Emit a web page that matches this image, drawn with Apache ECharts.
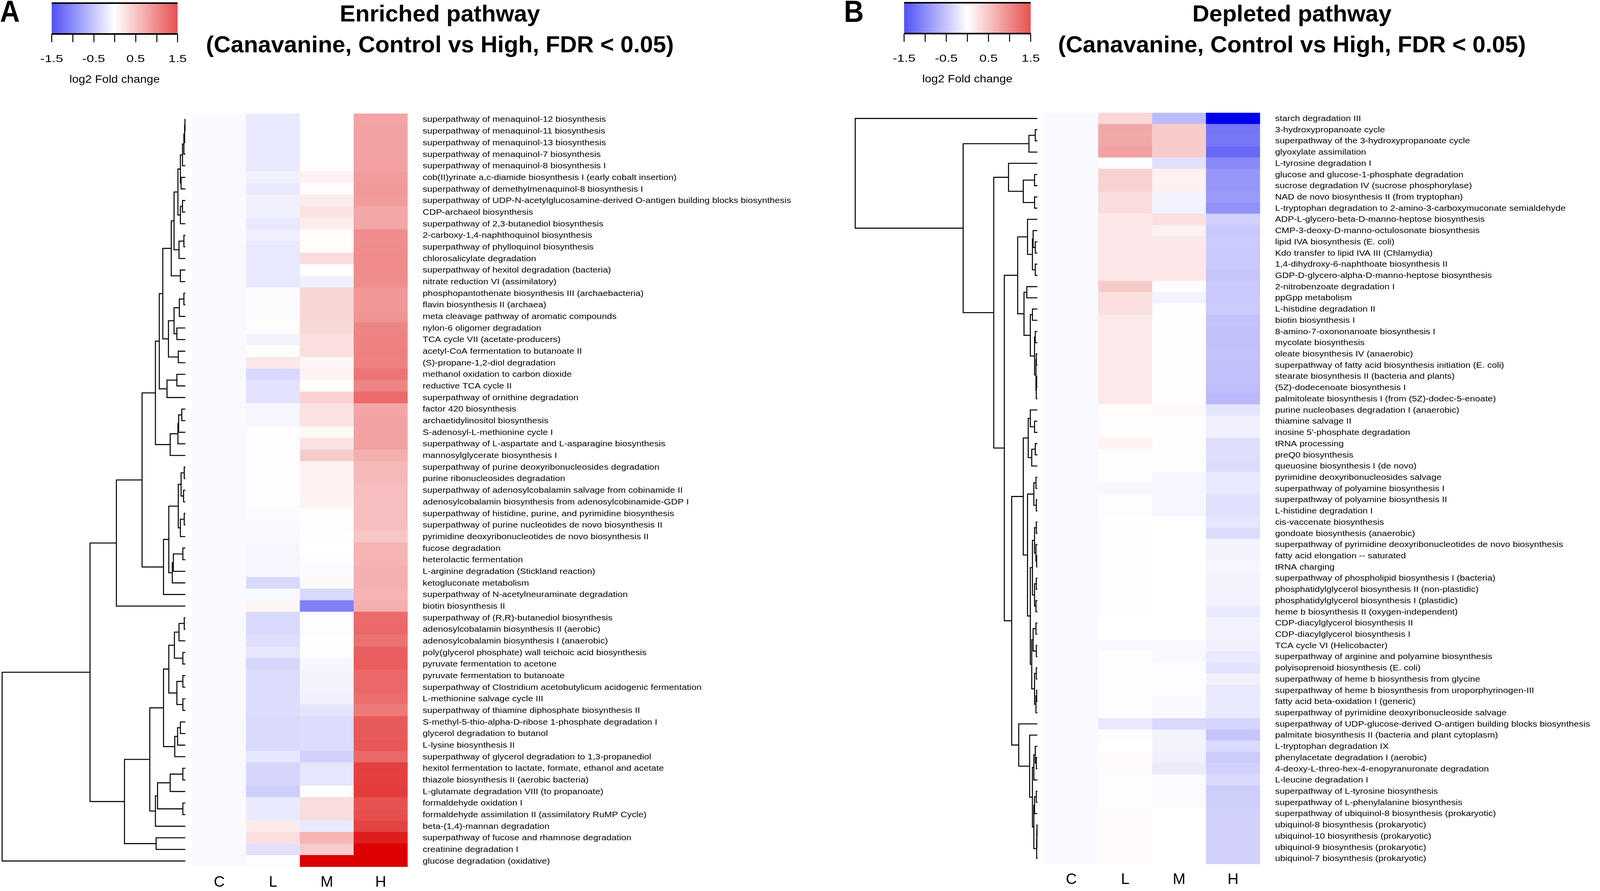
<!DOCTYPE html>
<html>
<head>
<meta charset="utf-8">
<script src="https://cdn.jsdelivr.net/npm/echarts@6/dist/echarts.min.js"></script>
<style>
html, body { margin: 0; padding: 0; background: #fff; overflow: hidden; }
#main { width: 100vw; height: 100vh; }
</style>
</head>
<body>
<div id="main"></div>
<script>
// column groups
var groups = ['C', 'L', 'M', 'H'];

// panel A: enriched pathways (row order as drawn, top to bottom)
var rowsA = [
  'superpathway of menaquinol-12 biosynthesis',
  'superpathway of menaquinol-11 biosynthesis',
  'superpathway of menaquinol-13 biosynthesis',
  'superpathway of menaquinol-7 biosynthesis',
  'superpathway of menaquinol-8 biosynthesis I',
  'cob(II)yrinate a,c-diamide biosynthesis I (early cobalt insertion)',
  'superpathway of demethylmenaquinol-8 biosynthesis I',
  'superpathway of UDP-N-acetylglucosamine-derived O-antigen building blocks biosynthesis',
  'CDP-archaeol biosynthesis',
  'superpathway of 2,3-butanediol biosynthesis',
  '2-carboxy-1,4-naphthoquinol biosynthesis',
  'superpathway of phylloquinol biosynthesis',
  'chlorosalicylate degradation',
  'superpathway of hexitol degradation (bacteria)',
  'nitrate reduction VI (assimilatory)',
  'phosphopantothenate biosynthesis III (archaebacteria)',
  'flavin biosynthesis II (archaea)',
  'meta cleavage pathway of aromatic compounds',
  'nylon-6 oligomer degradation',
  'TCA cycle VII (acetate-producers)',
  'acetyl-CoA fermentation to butanoate II',
  '(S)-propane-1,2-diol degradation',
  'methanol oxidation to carbon dioxide',
  'reductive TCA cycle II',
  'superpathway of ornithine degradation',
  'factor 420 biosynthesis',
  'archaetidylinositol biosynthesis',
  'S-adenosyl-L-methionine cycle I',
  'superpathway of L-aspartate and L-asparagine biosynthesis',
  'mannosylglycerate biosynthesis I',
  'superpathway of purine deoxyribonucleosides degradation',
  'purine ribonucleosides degradation',
  'superpathway of adenosylcobalamin salvage from cobinamide II',
  'adenosylcobalamin biosynthesis from adenosylcobinamide-GDP I',
  'superpathway of histidine, purine, and pyrimidine biosynthesis',
  'superpathway of purine nucleotides de novo biosynthesis II',
  'pyrimidine deoxyribonucleotides de novo biosynthesis II',
  'fucose degradation',
  'heterolactic fermentation',
  'L-arginine degradation (Stickland reaction)',
  'ketogluconate metabolism',
  'superpathway of N-acetylneuraminate degradation',
  'biotin biosynthesis II',
  'superpathway of (R,R)-butanediol biosynthesis',
  'adenosylcobalamin biosynthesis II (aerobic)',
  'adenosylcobalamin biosynthesis I (anaerobic)',
  'poly(glycerol phosphate) wall teichoic acid biosynthesis',
  'pyruvate fermentation to acetone',
  'pyruvate fermentation to butanoate',
  'superpathway of Clostridium acetobutylicum acidogenic fermentation',
  'L-methionine salvage cycle III',
  'superpathway of thiamine diphosphate biosynthesis II',
  'S-methyl-5-thio-alpha-D-ribose 1-phosphate degradation I',
  'glycerol degradation to butanol',
  'L-lysine biosynthesis II',
  'superpathway of glycerol degradation to 1,3-propanediol',
  'hexitol fermentation to lactate, formate, ethanol and acetate',
  'thiazole biosynthesis II (aerobic bacteria)',
  'L-glutamate degradation VIII (to propanoate)',
  'formaldehyde oxidation I',
  'formaldehyde assimilation II (assimilatory RuMP Cycle)',
  'beta-(1,4)-mannan degradation',
  'superpathway of fucose and rhamnose degradation',
  'creatinine degradation I',
  'glucose degradation (oxidative)'
];
var cA = [-0.05,-0.05,-0.05,-0.05,-0.05,-0.05,-0.05,-0.05,-0.05,-0.05,-0.05,-0.05,-0.05,-0.05,-0.05,-0.05,-0.05,-0.05,-0.05,-0.05,-0.05,-0.05,-0.05,-0.05,-0.05,-0.05,-0.05,-0.05,-0.05,-0.05,-0.05,-0.05,-0.05,-0.05,-0.05,-0.05,-0.05,-0.05,-0.05,-0.05,-0.05,-0.05,-0.05,-0.05,-0.05,-0.05,-0.05,-0.05,-0.05,-0.05,-0.05,-0.05,-0.05,-0.05,-0.05,-0.05,-0.05,-0.05,-0.05,-0.05,-0.05,-0.05,-0.05,-0.05,-0.05];
var lA = [-0.2,-0.2,-0.2,-0.2,-0.2,-0.12,-0.2,-0.12,-0.12,-0.2,-0.13,-0.2,-0.2,-0.2,-0.2,-0.03,-0.03,-0.03,0.03,-0.1,0.03,0.2,-0.33,-0.25,-0.25,-0.08,-0.08,-0.02,-0.02,-0.02,-0.02,-0.02,-0.02,-0.02,-0.03,-0.05,-0.05,-0.08,-0.08,-0.08,-0.33,-0.06,0.08,-0.33,-0.33,-0.28,-0.22,-0.35,-0.3,-0.3,-0.3,-0.3,-0.33,-0.33,-0.33,-0.22,-0.35,-0.35,-0.42,-0.18,-0.18,0.17,0.28,-0.26,-0.02];
var mA = [0,0,0,0,0.02,0.12,0.02,0.17,0.25,0.15,0.03,0.03,0.3,0,-0.12,0.35,0.35,0.35,0.33,0.27,0.27,0.08,0.1,0.02,0.4,0.25,0.25,0.05,0.25,0.45,0.12,0.12,0.12,0.1,0.03,0.03,0.02,0,-0.03,-0.04,0.05,-0.33,-1.1,-0.02,-0.02,-0.01,-0.02,-0.08,-0.1,-0.1,-0.12,-0.23,-0.3,-0.3,-0.3,-0.4,-0.22,-0.22,0.02,0.3,0.3,-0.18,0.64,0.45,2.2];
var hA = [0.78,0.8,0.8,0.8,0.82,0.85,0.88,0.85,0.76,0.76,0.98,0.98,1.0,1.0,0.98,0.9,0.9,0.92,1.05,1.08,1.1,1.08,1.2,1.05,1.28,0.78,0.8,0.8,0.82,0.7,0.6,0.6,0.56,0.56,0.56,0.55,0.48,0.66,0.66,0.68,0.68,0.66,0.7,1.28,1.3,1.22,1.38,1.4,1.3,1.3,1.25,1.15,1.42,1.42,1.45,1.3,1.65,1.65,1.68,1.5,1.52,1.62,1.95,2.2,2.2];

// panel B: depleted pathways
var rowsB = [
  'starch degradation III',
  '3-hydroxypropanoate cycle',
  'superpathway of the 3-hydroxypropanoate cycle',
  'glyoxylate assimilation',
  'L-tyrosine degradation I',
  'glucose and glucose-1-phosphate degradation',
  'sucrose degradation IV (sucrose phosphorylase)',
  'NAD de novo biosynthesis II (from tryptophan)',
  'L-tryptophan degradation to 2-amino-3-carboxymuconate semialdehyde',
  'ADP-L-glycero-beta-D-manno-heptose biosynthesis',
  'CMP-3-deoxy-D-manno-octulosonate biosynthesis',
  'lipid IVA biosynthesis (E. coli)',
  'Kdo transfer to lipid IVA III (Chlamydia)',
  '1,4-dihydroxy-6-naphthoate biosynthesis II',
  'GDP-D-glycero-alpha-D-manno-heptose biosynthesis',
  '2-nitrobenzoate degradation I',
  'ppGpp metabolism',
  'L-histidine degradation II',
  'biotin biosynthesis I',
  '8-amino-7-oxononanoate biosynthesis I',
  'mycolate biosynthesis',
  'oleate biosynthesis IV (anaerobic)',
  'superpathway of fatty acid biosynthesis initiation (E. coli)',
  'stearate biosynthesis II (bacteria and plants)',
  '(5Z)-dodecenoate biosynthesis I',
  'palmitoleate biosynthesis I (from (5Z)-dodec-5-enoate)',
  'purine nucleobases degradation I (anaerobic)',
  'thiamine salvage II',
  "inosine 5'-phosphate degradation",
  'tRNA processing',
  'preQ0 biosynthesis',
  'queuosine biosynthesis I (de novo)',
  'pyrimidine deoxyribonucleosides salvage',
  'superpathway of polyamine biosynthesis I',
  'superpathway of polyamine biosynthesis II',
  'L-histidine degradation I',
  'cis-vaccenate biosynthesis',
  'gondoate biosynthesis (anaerobic)',
  'superpathway of pyrimidine deoxyribonucleotides de novo biosynthesis',
  'fatty acid elongation -- saturated',
  'tRNA charging',
  'superpathway of phospholipid biosynthesis I (bacteria)',
  'phosphatidylglycerol biosynthesis II (non-plastidic)',
  'phosphatidylglycerol biosynthesis I (plastidic)',
  'heme b biosynthesis II (oxygen-independent)',
  'CDP-diacylglycerol biosynthesis II',
  'CDP-diacylglycerol biosynthesis I',
  'TCA cycle VI (Helicobacter)',
  'superpathway of arginine and polyamine biosynthesis',
  'polyisoprenoid biosynthesis (E. coli)',
  'superpathway of heme b biosynthesis from glycine',
  'superpathway of heme b biosynthesis from uroporphyrinogen-III',
  'fatty acid beta-oxidation I (generic)',
  'superpathway of pyrimidine deoxyribonucleoside salvage',
  'superpathway of UDP-glucose-derived O-antigen building blocks biosynthesis',
  'palmitate biosynthesis II (bacteria and plant cytoplasm)',
  'L-tryptophan degradation IX',
  'phenylacetate degradation I (aerobic)',
  '4-deoxy-L-threo-hex-4-enopyranuronate degradation',
  'L-leucine degradation I',
  'superpathway of L-tyrosine biosynthesis',
  'superpathway of L-phenylalanine biosynthesis',
  'superpathway of ubiquinol-8 biosynthesis (prokaryotic)',
  'ubiquinol-8 biosynthesis (prokaryotic)',
  'ubiquinol-10 biosynthesis (prokaryotic)',
  'ubiquinol-9 biosynthesis (prokaryotic)',
  'ubiquinol-7 biosynthesis (prokaryotic)'
];
var cB = [-0.05,-0.05,-0.05,-0.05,-0.05,-0.05,-0.05,-0.05,-0.05,-0.05,-0.05,-0.05,-0.05,-0.05,-0.05,-0.05,-0.05,-0.05,-0.05,-0.05,-0.05,-0.05,-0.05,-0.05,-0.05,-0.05,-0.05,-0.05,-0.05,-0.05,-0.05,-0.05,-0.05,-0.05,-0.05,-0.05,-0.05,-0.05,-0.05,-0.05,-0.05,-0.05,-0.05,-0.05,-0.05,-0.05,-0.05,-0.05,-0.05,-0.05,-0.05,-0.05,-0.05,-0.05,-0.05,-0.05,-0.05,-0.05,-0.05,-0.05,-0.05,-0.05,-0.05,-0.05,-0.05,-0.05,-0.05];
var lB = [0.34,0.75,0.75,0.8,-0.02,0.4,0.4,0.3,0.3,0.2,0.2,0.2,0.2,0.2,0.2,0.45,0.27,0.27,0.18,0.18,0.18,0.18,0.18,0.18,0.18,0.18,0.03,0.02,0.02,0.1,0.03,0.03,-0.02,-0.07,-0.02,-0.02,0.02,0.02,0.02,0.02,0.02,0.02,0.02,0.02,0.02,0,0,-0.06,-0.02,-0.02,-0.02,-0.02,-0.02,-0.02,-0.2,-0.02,0,0.04,0.04,-0.02,-0.02,-0.02,0.04,0.04,0.04,0.04,0.04];
var mB = [-0.58,0.45,0.45,0.45,-0.26,0.12,0.12,-0.1,-0.1,0.28,0.12,0.2,0.2,0.2,0.2,-0.02,-0.1,0.02,0.02,0.02,0.02,0.02,0.02,0.02,0.02,0.02,0.05,0.02,0.02,0.03,0.02,0.02,-0.08,-0.08,-0.08,-0.08,0,0,0,0,0,0,0,0,0,0,0,-0.06,-0.06,-0.02,-0.02,-0.02,-0.05,-0.05,-0.33,-0.1,-0.1,-0.12,-0.17,-0.04,-0.04,-0.04,0,0,0,0,0];
var hB = [-2.2,-1.19,-1.17,-1.29,-1.02,-0.9,-0.9,-0.86,-0.95,-0.4,-0.47,-0.45,-0.47,-0.47,-0.5,-0.47,-0.47,-0.45,-0.52,-0.54,-0.54,-0.52,-0.54,-0.54,-0.56,-0.6,-0.23,-0.14,-0.14,-0.28,-0.28,-0.3,-0.2,-0.2,-0.26,-0.26,-0.22,-0.3,-0.1,-0.1,-0.08,-0.1,-0.1,-0.1,-0.18,-0.1,-0.1,-0.12,-0.18,-0.24,-0.12,-0.2,-0.18,-0.18,-0.36,-0.5,-0.33,-0.45,-0.4,-0.33,-0.42,-0.42,-0.4,-0.4,-0.4,-0.4,-0.4];

// row dendrograms: [left, right, mergeHeight], leaves are row indices
var subA1 = [[[[[[[[0, 1, 1], 2, 2], 3, 4], 4, 8], [5, 6, 12], 14], [[7, 8, 8], 9, 14], 21], [[10, 11, 4], 12, 18], 32], [13, 14, 14], 40];
var subA2 = [[[[15, 16, 4], 17, 17], [18, 19, 24], 32], [20, 21, 20], 48];
var subA3 = [[22, 23, 24], 24, 52];
var subA4 = [[[[25, 26, 10], 27, 19], 28, 21], 29, 43];
var subA5 = [[[[[30, 31, 3], [32, 33, 5], 12], [[34, 35, 3], 36, 14], 20], [[[37, 38, 7], 39, 34], 40, 37], 47], 41, 62];
var subA6 = [[[[[43, 44, 3], 45, 18], [46, 47, 7], 31], [[48, 49, 7], [50, 51, 7], 24], 47], [[[52, 53, 14], 54, 22], 55, 30], 62];
var subA7 = [[[[56, 57, 7], 58, 43], [59, 60, 7], 79], 61, 85];
var treeA = [[[[[[[subA1, subA2, 64], subA3, 74], subA4, 85], subA5, 123], 42, 196], [[subA6, subA7, 101], [62, 63, 83], 173], 271], 64, 521];

var subB1 = [[1, 2, 6], 3, 24];
var subB2 = [4, [[5, 6, 8], [7, 8, 8], 40], 82];
var subB3 = [[9, [[10, [11, 12, 6], 12], [13, 14, 6], 14], 28], [[15, 16, 30], [[17, 18, 14], [[19, 20, 6], [[21, 22, 3], [[23, 24, 2], 25, 3], 4], 8], 20], 38], 56];
var subB4 = [[26, [27, 28, 8], 20], [[29, 30, 6], 31, 16], 26];
var subB5 = [[[32, 33, 4], [34, 35, 3], 10], [[[[36, 37, 3], [38, [39, 40, 2], 4], 8], [[41, 42, 3], [43, 44, 4], 8], 14], [[[45, 46, 4], [47, 48, 3], 12], [[49, 50, 3], [[51, 52, 2], 53, 4], 8], 16], 20], 28];
var subB6 = [54, [55, [[[56, [57, 58, 3], 6], 59, 10], [[[60, 61, 3], 62, 8], [[[63, 64, 1], 65, 1.5], 66, 2], 10], 14], 22], 53];
var treeB = [0, [subB1, [subB2, [subB3, [[subB4, subB5, 40], subB6, 73], 94], 124], 211], 518];

// colour key
var legendLabels = [-1.5, -0.5, 0.5, 1.5];

var FONT = '"Liberation Sans", Arial, Helvetica, sans-serif';
var VMAX = 2.2;
var LOW = [0, 0, 240], MID = [255, 255, 255], HIGH = [220, 0, 0];

// layout is laid out on a 4550 x 2282 design and scaled to the viewport
var dom = document.getElementById('main');
var SX = dom.clientWidth / 4550, SY = dom.clientHeight / 2282;
function X(v) { return v * SX; }
function Y(v) { return v * SY; }
function fs(v) { return v * SY; }
function stretch(k) { return k * SX / SY; }

function colorAt(v) {
  var t, a, b;
  if (v < 0) { t = (v + VMAX) / VMAX; a = LOW; b = MID; }
  else { t = v / VMAX; a = MID; b = HIGH; }
  t = Math.max(0, Math.min(1, t));
  return 'rgb(' + [0, 1, 2].map(function (k) { return Math.round(a[k] + (b[k] - a[k]) * t); }).join(',') + ')';
}

function heatData(cols) {
  var out = [];
  for (var r = 0; r < cols[0].length; r++) {
    for (var c = 0; c < cols.length; c++) out.push([c, r, cols[c][r]]);
  }
  return out;
}

function dendroSegments(tree) {
  var segs = [];
  function walk(node) {
    if (typeof node === 'number') return { h: 0, y: node + 0.5 };
    var a = walk(node[0]), b = walk(node[1]), h = node[2];
    segs.push({ coords: [[a.h, a.y], [h, a.y], [h, b.y], [b.h, b.y]] });
    return { h: h, y: (a.y + b.y) / 2 };
  }
  walk(tree);
  return segs;
}

function rowLabelRenderer(rows) {
  return function (params, api) {
    var r = api.value(1);
    var p = api.coord([3, r]);
    var s = api.size([1, 1]);
    return {
      type: 'text', x: p[0] + s[0] / 2 + X(43), y: p[1] + Y(1), scaleX: stretch(1.27),
      style: { text: rows[r], fontSize: fs(20.5), fontFamily: FONT, fill: '#000', align: 'left', verticalAlign: 'middle' }
    };
  };
}

function legendBar(params, api) {
  var p0 = api.coord([-1.5, 1]), p1 = api.coord([1.5, 0]);
  return {
    type: 'group', children: [
      { type: 'rect', shape: { x: p0[0], y: p0[1], width: p1[0] - p0[0], height: p1[1] - p0[1] },
        style: { fill: new echarts.graphic.LinearGradient(0, 0, 1, 0, [
          { offset: 0, color: colorAt(-1.5) }, { offset: 0.5, color: '#ffffff' }, { offset: 1, color: colorAt(1.5) }]) } },
      { type: 'line', shape: { x1: p0[0], y1: p0[1], x2: p1[0], y2: p0[1] }, style: { stroke: '#000', lineWidth: 4 } },
      { type: 'line', shape: { x1: p0[0], y1: p1[1], x2: p1[0], y2: p1[1] }, style: { stroke: '#000', lineWidth: 4 } },
      { type: 'text', x: (p0[0] + p1[0]) / 2, y: p1[1] + Y(118), scaleX: stretch(1.24),
        style: { text: 'log2 Fold change', fontSize: fs(27), fontFamily: FONT, fill: '#000', align: 'center', verticalAlign: 'middle' } }
    ]
  };
}

function legendText(params, api) {
  var v = api.value(0);
  var p = api.coord([v, 0]);
  return {
    type: 'text', x: p[0], y: p[1] + Y(65), scaleX: stretch(1.45),
    style: { text: String(v), fontSize: fs(26), fontFamily: FONT, fill: '#000', align: 'center', verticalAlign: 'middle' }
  };
}

function heatXAxis(idx) {
  return {
    type: 'category', gridIndex: idx, data: groups, position: 'bottom',
    axisLine: { show: false }, axisTick: { show: false }, splitLine: { show: false },
    axisLabel: { fontSize: fs(39), color: '#000', fontFamily: FONT, margin: Y(21) }
  };
}
function heatYAxis(idx, rows) {
  return { type: 'category', gridIndex: idx, data: rows, inverse: true, show: false };
}
function dendroX(idx, max) {
  return { type: 'value', gridIndex: idx, min: 0, max: max, inverse: true, show: false };
}
function dendroY(idx, n) {
  return { type: 'value', gridIndex: idx, min: 0, max: n, inverse: true, show: false };
}
function legendX(idx) {
  return {
    type: 'value', gridIndex: idx, min: -1.5, max: 1.5, interval: 0.5, position: 'bottom',
    axisLine: { show: false }, splitLine: { show: false }, axisLabel: { show: false },
    axisTick: { show: true, length: Y(21), lineStyle: { color: '#000', width: 2.5 } }
  };
}
function legendY(idx) {
  return { type: 'value', gridIndex: idx, min: 0, max: 1, show: false };
}

function box(l, t, w, h) {
  return { left: X(l), top: Y(t), width: X(w), height: Y(h), containLabel: false, outerBoundsMode: 'none' };
}
var grids = [
  box(6, 291, 521, 1929),
  box(547, 291, 612, 1929),
  box(2432, 289, 518, 1924),
  box(2970, 289, 613, 1924),
  box(147, 8, 358, 79),
  box(2571, 7, 360, 79)
];

function label(text, x, y, size, k, align) {
  return { type: 'text', x: X(x), y: Y(y), scaleX: stretch(k),
    style: { text: text, fontSize: fs(size), fontWeight: 'bold', fontFamily: FONT, fill: '#000', align: align, verticalAlign: 'middle' } };
}

var chart = echarts.init(dom, null, { renderer: 'canvas' });

chart.setOption({
  backgroundColor: '#ffffff',
  animation: false,
  grid: grids,
  xAxis: [dendroX(0, treeA[2]), heatXAxis(1), dendroX(2, treeB[2]), heatXAxis(3), legendX(4), legendX(5)],
  yAxis: [dendroY(0, rowsA.length), heatYAxis(1, rowsA), dendroY(2, rowsB.length), heatYAxis(3, rowsB), legendY(4), legendY(5)],
  visualMap: {
    type: 'continuous', show: false, min: -VMAX, max: VMAX, dimension: 2, seriesIndex: [1, 4],
    inRange: { color: ['rgb(0,0,240)', '#ffffff', 'rgb(220,0,0)'] }
  },
  graphic: [
    label('A', 0, 34, 78, 1, 'left'),
    label('B', 2400, 34, 78, 1, 'left'),
    label('Enriched pathway', 1251, 38, 60, 1.11, 'center'),
    label('(Canavanine, Control vs High, FDR < 0.05)', 1251, 117, 60, 1.11, 'center'),
    label('Depleted pathway', 3674, 38, 60, 1.11, 'center'),
    label('(Canavanine, Control vs High, FDR < 0.05)', 3674, 117, 60, 1.11, 'center')
  ],
  series: [
    { type: 'lines', coordinateSystem: 'cartesian2d', xAxisIndex: 0, yAxisIndex: 0, polyline: true, silent: true,
      lineStyle: { color: '#000', width: 2.6, opacity: 1 }, data: dendroSegments(treeA) },
    { type: 'heatmap', xAxisIndex: 1, yAxisIndex: 1, data: heatData([cA, lA, mA, hA]), silent: true },
    { type: 'custom', xAxisIndex: 1, yAxisIndex: 1, clip: false, silent: true,
      data: rowsA.map(function (n, i) { return [3, i]; }), renderItem: rowLabelRenderer(rowsA) },
    { type: 'lines', coordinateSystem: 'cartesian2d', xAxisIndex: 2, yAxisIndex: 2, polyline: true, silent: true,
      lineStyle: { color: '#000', width: 2.6, opacity: 1 }, data: dendroSegments(treeB) },
    { type: 'heatmap', xAxisIndex: 3, yAxisIndex: 3, data: heatData([cB, lB, mB, hB]), silent: true },
    { type: 'custom', xAxisIndex: 3, yAxisIndex: 3, clip: false, silent: true,
      data: rowsB.map(function (n, i) { return [3, i]; }), renderItem: rowLabelRenderer(rowsB) },
    { type: 'custom', xAxisIndex: 4, yAxisIndex: 4, clip: false, silent: true, data: [[-1.5, 0]], renderItem: legendBar },
    { type: 'custom', xAxisIndex: 4, yAxisIndex: 4, clip: false, silent: true,
      data: legendLabels.map(function (v) { return [v, 0]; }), renderItem: legendText },
    { type: 'custom', xAxisIndex: 5, yAxisIndex: 5, clip: false, silent: true, data: [[-1.5, 0]], renderItem: legendBar },
    { type: 'custom', xAxisIndex: 5, yAxisIndex: 5, clip: false, silent: true,
      data: legendLabels.map(function (v) { return [v, 0]; }), renderItem: legendText }
  ]
});
</script>
</body>
</html>
